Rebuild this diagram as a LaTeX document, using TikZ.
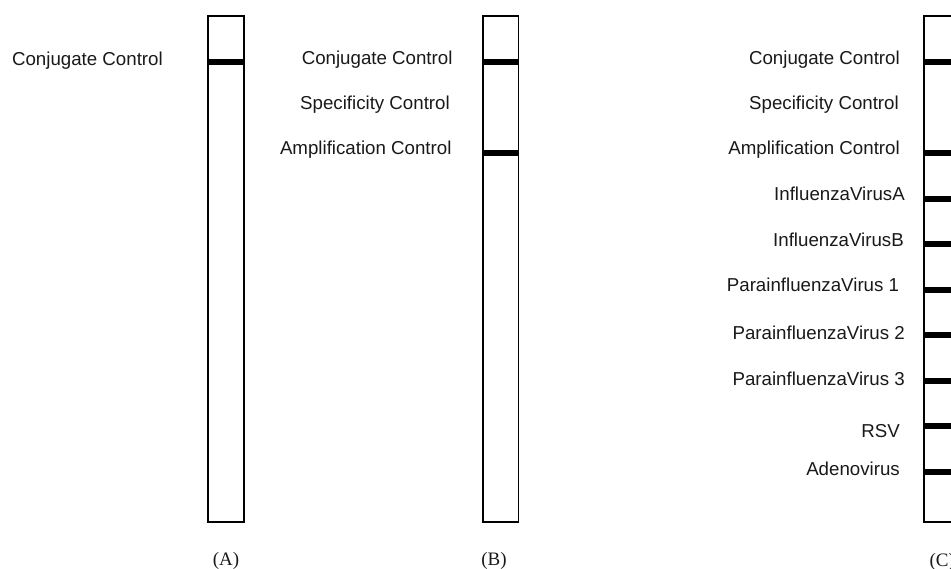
\documentclass[tikz,border=0pt]{standalone}
\usepackage{fontspec}
\setmainfont{Liberation Sans}
\newfontfamily\panelfont{Liberation Serif}
\tikzset{
  stripbox/.style={draw=black, line width=1.6pt, fill=white},
  bandfill/.style={fill=black},
  lab/.style={anchor=base east, inner sep=0pt, text=black!90, font=\fontsize{18.7}{22}\selectfont},
  panel/.style={anchor=base, inner sep=0pt, text=black!90, font=\panelfont\fontsize{19}{22}\selectfont}
}
\begin{document}
\begin{tikzpicture}[x=1pt,y=-1pt]
\useasboundingbox (0,0) rectangle (951,569);
\clip (0,0) rectangle (951,569);
% Strip A
\draw[stripbox] (208,15.8) rectangle (244.2,521.9);
\foreach \y in {62}{\fill[bandfill] (207.2,\y-3.3) rectangle (245,\y+3.3);}
\node[lab] (a1) at (163,66) {Conjugate Control};
\node[panel] (pa) at (226,565) {(A)};
% Strip B
\draw[stripbox] (482.8,15.8) rectangle (518.4,521.9);
\foreach \y in {62,153}{\fill[bandfill] (482,\y-3.3) rectangle (519.2,\y+3.3);}
\node[lab] (b1) at (452.7,65) {Conjugate Control};
\node[lab] (b2) at (450,110) {Specificity Control};
\node[lab] (b3) at (451.7,155) {Amplification Control};
\node[panel] (pb) at (494,565) {(B)};
% Strip C
\draw[stripbox] (923.8,15.8) rectangle (962,521.9);
\foreach \y in {62,153,199,244,290,335,381,426,472}{\fill[bandfill] (923,\y-3.3) rectangle (962,\y+3.3);}
\node[lab] (c1) at (900,65) {Conjugate Control};
\node[lab] (c2) at (899,110) {Specificity Control};
\node[lab] (c3) at (900,155) {Amplification Control};
\node[lab] (c4) at (905,201) {InfluenzaVirusA};
\node[lab] (c5) at (904,246.7) {InfluenzaVirusB};
\node[lab] (c6) at (899.3,291.7) {ParainfluenzaVirus 1};
\node[lab] (c7) at (905,339.3) {ParainfluenzaVirus 2};
\node[lab] (c8) at (905,385) {ParainfluenzaVirus 3};
\node[lab] (c9) at (900,437.7) {RSV};
\node[lab] (c10) at (900,475) {Adenovirus};
\node[panel, anchor=base west] (pc) at (929.3,566) {(C)};
\end{tikzpicture}
\end{document}
